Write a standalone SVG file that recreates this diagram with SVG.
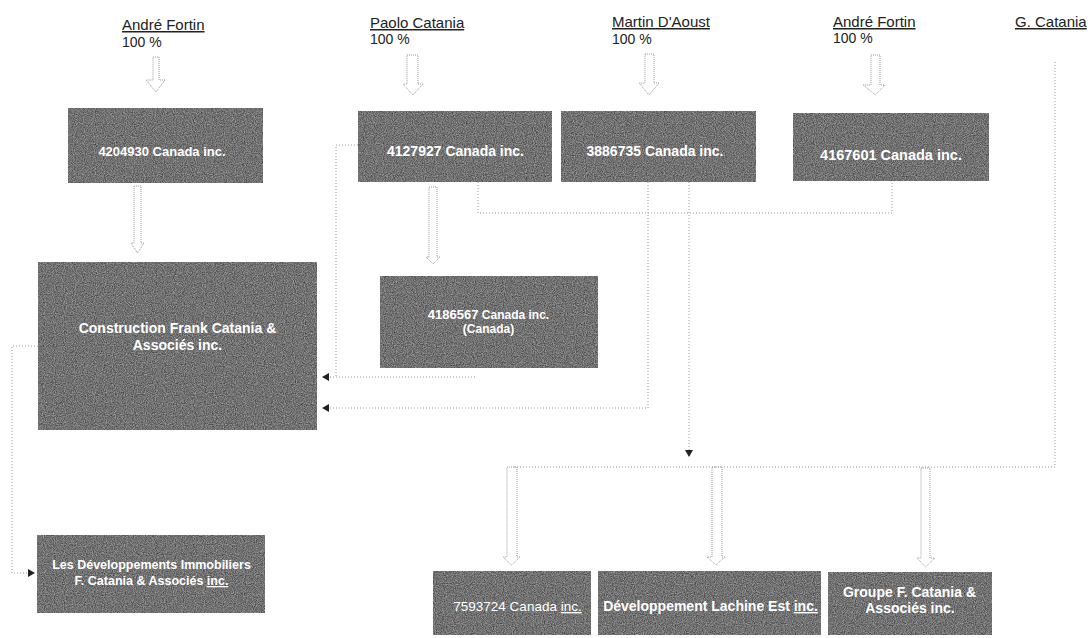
<svg xmlns="http://www.w3.org/2000/svg" width="1088" height="638" viewBox="0 0 1088 638">
<style>
.box{fill:#6e6e6e;filter:url(#grain)}
.bt{font-family:"Liberation Sans",Arial,sans-serif;font-weight:bold;fill:#fff;text-anchor:middle}
.nm{font-family:"Liberation Sans",Arial,sans-serif;font-size:15px;fill:#222;text-decoration:underline}
.pc{font-family:"Liberation Sans",Arial,sans-serif;font-size:14px;fill:#222}
.ha{fill:#fff;stroke:#9a9a9a;stroke-width:1;stroke-dasharray:1 1}
.cn{fill:none;stroke:#999;stroke-width:1;stroke-dasharray:1 2}
.u{text-decoration:underline}
.rg{font-weight:normal}
</style>
<defs>
<filter id="grain" x="0" y="0" width="1" height="1" color-interpolation-filters="sRGB">
<feTurbulence type="fractalNoise" baseFrequency="0.9" numOctaves="2" seed="4" result="n"/>
<feColorMatrix in="n" type="matrix" values="0.55 0 0 0 0.17  0.55 0 0 0 0.17  0.55 0 0 0 0.17  0 0 0 0 1" result="g"/>
<feComposite in="g" in2="SourceGraphic" operator="in"/>
</filter>
<marker id="ah" markerUnits="userSpaceOnUse" markerWidth="8" markerHeight="8" refX="7" refY="4" orient="auto">
<path d="M0,0 L7,4 L0,8 z" fill="#222"/>
</marker>
</defs>
<rect width="1088" height="638" fill="#fff"/>

<g id="labels">
<text class="nm" x="122" y="30">André Fortin</text>
<text class="pc" x="122" y="47">100 %</text>
<text class="nm" x="370" y="28">Paolo Catania</text>
<text class="pc" x="370" y="44">100 %</text>
<text class="nm" x="612" y="27">Martin D'Aoust</text>
<text class="pc" x="612" y="44">100 %</text>
<text class="nm" x="833" y="27">André Fortin</text>
<text class="pc" x="833" y="43">100 %</text>
<text class="nm" x="1015" y="27">G. Catania</text>
</g>

<g id="connectors">
<path class="ha" d="M153 57 H159 V80 H165 L156 92 L146 80 H153 Z"/>
<path class="ha" d="M134 186 H141 V243 H144 L137.5 253 L131 243 H134 Z"/>
<path class="ha" d="M407 55 H418 V84 H423 L413 95 L403 84 H407 Z"/>
<path class="ha" d="M645 54 H654 V83 H659 L649 95 L639 83 H645 Z"/>
<path class="ha" d="M871 55 H880 V85 H885 L875.5 95 L863 85 H871 Z"/>
<path class="ha" d="M429 187 H437 V257 H440 L433 264 L426 257 H429 Z"/>
<path class="ha" d="M507 467 H517 V557 H520 L511.5 565 L503 557 H507 Z"/>
<path class="ha" d="M712 467 H722 V557 H725 L716 565 L707 557 H712 Z"/>
<path class="ha" d="M921 468 H930 V558 H935 L925.5 567 L917 558 H921 Z"/>
<path class="cn" d="M478 182 V213 H892 V181"/>
<path class="cn" d="M648 182 V408 H322" marker-end="url(#ah)"/>
<path class="cn" d="M689 182 V457" marker-end="url(#ah)"/>
<path class="cn" d="M358 145 H336 V377"/>
<path class="cn" d="M475 377 H322" marker-end="url(#ah)"/>
<path class="cn" d="M38 346 H12 V573 H35" marker-end="url(#ah)"/>
<path class="cn" d="M1055 62 V467 H512"/>
</g>

<g id="n4204930">
<rect class="box" x="68" y="108" width="195" height="75"/>
<text class="bt" x="162" y="156" font-size="13">4204930 Canada inc.</text>
</g>
<g id="n4127927">
<rect class="box" x="358" y="111" width="194" height="71"/>
<text class="bt" x="455.5" y="156" font-size="14">4127927 Canada inc.</text>
</g>
<g id="n3886735">
<rect class="box" x="561" y="111" width="195" height="71"/>
<text class="bt" x="655" y="156" font-size="14">3886735 Canada inc.</text>
</g>
<g id="n4167601">
<rect class="box" x="793" y="113" width="196" height="68"/>
<text class="bt" x="891" y="160" font-size="14.5">4167601 Canada inc.</text>
</g>
<g id="construction">
<rect class="box" x="38" y="262" width="279" height="168"/>
<text class="bt" x="177.5" y="333" font-size="14">Construction Frank Catania &amp;</text>
<text class="bt" x="177.5" y="350" font-size="14">Associés inc.</text>
</g>
<g id="n4186567">
<rect class="box" x="380" y="276" width="218" height="92"/>
<text class="bt" x="488.5" y="319" font-size="12"><tspan font-size="13">4186567</tspan> Canada inc.</text>
<text class="bt" x="488.5" y="333" font-size="12">(Canada)</text>
</g>
<g id="lesdev">
<rect class="box" x="37" y="535" width="228" height="78"/>
<text class="bt" x="151.5" y="569" font-size="12.5">Les Développements Immobiliers</text>
<text class="bt" x="151.5" y="585" font-size="12.5">F. Catania &amp; Associés <tspan class="u">inc.</tspan></text>
</g>
<g id="n7593724">
<rect class="box" x="433" y="571" width="158" height="64"/>
<text class="bt rg" x="517.5" y="611" font-size="13.5">7593724 Canada <tspan class="u">inc.</tspan></text>
</g>
<g id="lachine">
<rect class="box" x="598" y="571" width="223" height="64"/>
<text class="bt" x="710.5" y="611" font-size="14">Développement Lachine Est <tspan class="u">inc.</tspan></text>
</g>
<g id="groupe">
<rect class="box" x="828" y="572" width="164" height="63"/>
<text class="bt" x="909.5" y="597" font-size="14">Groupe F. Catania &amp;</text>
<text class="bt" x="910" y="613" font-size="14">Associés inc.</text>
</g>
</svg>
